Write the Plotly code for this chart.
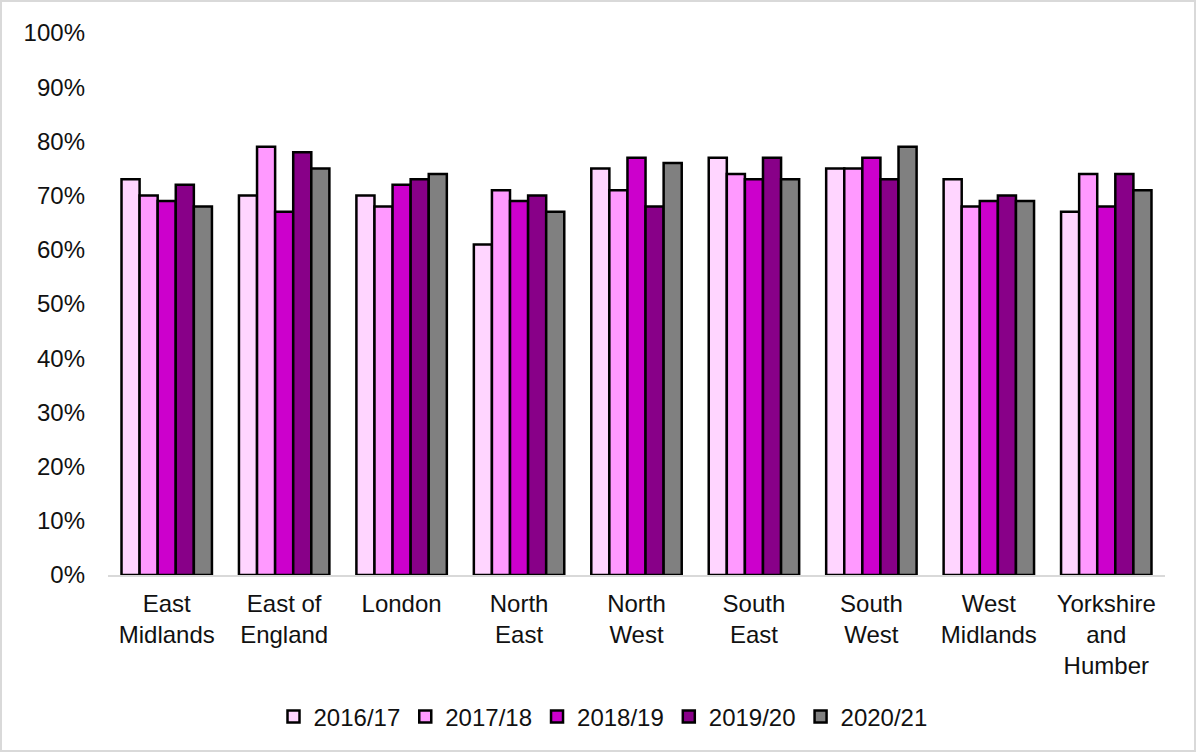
import plotly.graph_objects as go

regions = ["East<br>Midlands", "East of<br>England", "London", "North<br>East", "North<br>West",
           "South<br>East", "South<br>West", "West<br>Midlands", "Yorkshire<br>and<br>Humber"]
years = ["2016/17", "2017/18", "2018/19", "2019/20", "2020/21"]
v2016 = [73, 70, 70, 61, 75, 77, 75, 73, 67]
v2017 = [70, 79, 68, 71, 71, 74, 75, 68, 74]
v2018 = [69, 67, 72, 69, 77, 73, 77, 69, 68]
v2019 = [72, 78, 73, 70, 68, 77, 73, 70, 74]
v2020 = [68, 75, 74, 67, 76, 73, 79, 69, 71]
series = [v2016, v2017, v2018, v2019, v2020]
colors = ["#FFD5FF", "#FF99FF", "#CC00CC", "#880088", "#808080"]

fig = go.Figure()
for name, vals, col in zip(years, series, colors):
    fig.add_trace(go.Bar(x=regions, y=[v / 100 for v in vals], name=name,
                         marker=dict(color=col, line=dict(color="black", width=2.5))))

L, R, T, B = 108, 32, 33, 178
W, H = 1197, 753
pw, ph = W - L - R, H - T - B
fig.update_layout(
    width=W, height=H,
    margin=dict(l=L, r=R, t=T, b=B, autoexpand=False),
    paper_bgcolor="white", plot_bgcolor="white",
    font=dict(family="Liberation Sans, Arial, sans-serif", size=24, color="#111"),
    barmode="group", bargap=0.23, bargroupgap=0,
    showlegend=True,
    legend=dict(orientation="h", x=(603 - L) / pw, xanchor="center",
                y=(575 - 717) / ph, yanchor="middle",
                font=dict(size=24), itemwidth=30, traceorder="normal"),
    xaxis=dict(showline=True, linecolor="#D9D9D9", linewidth=2, ticks="", showgrid=False,
               ticklabelstandoff=6, tickfont=dict(size=24)),
    yaxis=dict(range=[0, 1], dtick=0.1, tickformat=".0%", showgrid=False, zeroline=False,
               showline=False, ticks="", ticklabelstandoff=22, tickfont=dict(size=24)),
    shapes=[dict(type="rect", xref="paper", yref="paper",
                 x0=(1 - L) / pw, x1=(W - 2 - L) / pw,
                 y0=(T + ph - (H - 2)) / ph, y1=(T + ph - 1) / ph,
                 line=dict(color="#D9D9D9", width=2), fillcolor="rgba(0,0,0,0)", layer="below")],
)
fig.write_html("out.html")
